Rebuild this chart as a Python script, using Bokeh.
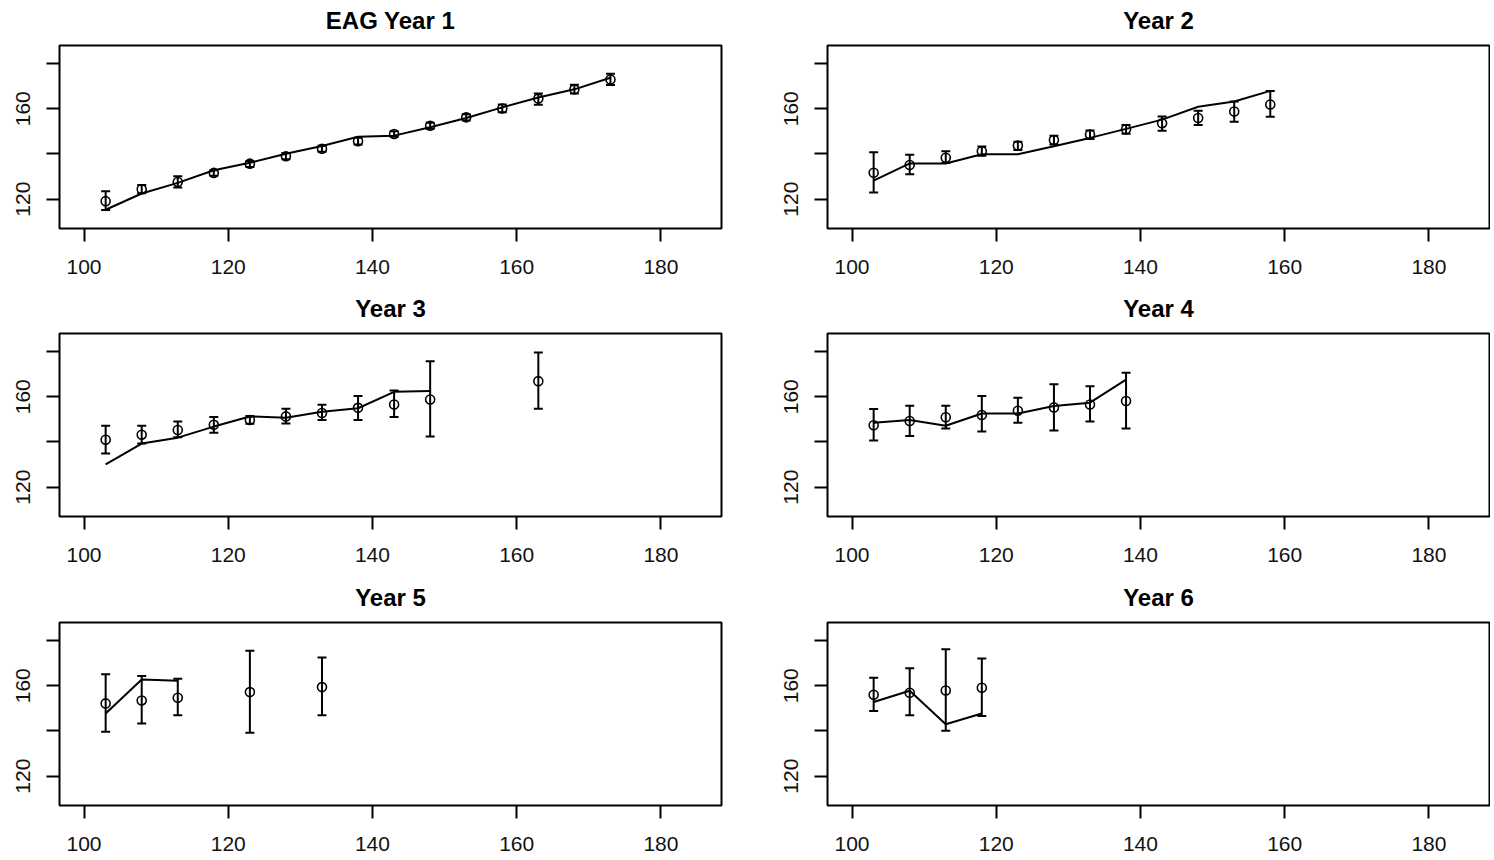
from bokeh.plotting import figure
from bokeh.models import ColumnDataSource, Whisker, TeeHead, Range1d, FixedTicker, Title
from bokeh.layouts import column, row
from bokeh.embed import file_html
from bokeh.resources import INLINE

titles = ["EAG Year 1", "Year 2", "Year 3", "Year 4", "Year 5", "Year 6"]
x_ticks = [100, 120, 140, 160, 180]
y_ticks = [120, 140, 160, 180]
y_tick_labels = {120: "120", 140: "", 160: "160", 180: ""}

# Year 1
ages1 = [103, 108, 113, 118, 123, 128, 133, 138, 143, 148, 153, 158, 163, 168, 173]
obs1 = [119.1, 124.4, 127.6, 131.6, 135.7, 139.0, 142.3, 145.6, 148.8, 152.5, 156.2, 160.1, 164.5, 168.6, 173.0]
lo1 = [115.2, 122.6, 125.1, 130.3, 134.2, 137.6, 141.0, 144.2, 147.6, 151.2, 154.8, 158.4, 161.8, 166.7, 170.5]
hi1 = [123.5, 126.3, 130.1, 132.8, 136.9, 140.4, 143.6, 147.2, 150.0, 153.8, 157.6, 161.9, 166.7, 170.6, 175.5]
fit_x1 = [103, 108, 113, 118, 123, 128, 133, 138, 143, 148, 153, 158, 163, 168, 173]
fit1 = [115.3, 122.5, 127.2, 132.8, 136.1, 140.1, 143.5, 147.6, 148.1, 151.8, 155.9, 160.6, 165.0, 168.6, 173.7]

# Year 2
ages2 = [103, 108, 113, 118, 123, 128, 133, 138, 143, 148, 153, 158]
obs2 = [131.7, 135.1, 138.3, 141.2, 143.7, 146.2, 148.6, 150.9, 153.6, 155.9, 158.8, 161.9]
lo2 = [122.9, 131.0, 136.0, 139.2, 141.8, 144.2, 146.6, 148.9, 150.3, 152.8, 154.3, 156.5]
hi2 = [140.8, 139.6, 141.2, 143.3, 145.4, 148.0, 150.4, 152.8, 156.6, 159.1, 163.2, 167.9]
fit_x2 = [103, 108, 113, 118, 123, 128, 133, 138, 143, 148, 153, 158]
fit2 = [128.2, 135.8, 135.8, 139.9, 139.9, 143.4, 147.1, 151.1, 155.2, 160.9, 163.2, 167.9]

# Year 3
ages3 = [103, 108, 113, 118, 123, 128, 133, 138, 143, 148, 163]
obs3 = [141.0, 143.2, 145.3, 147.6, 149.7, 151.3, 152.8, 155.1, 156.6, 158.8, 166.9]
lo3 = [134.9, 139.3, 142.1, 144.1, 148.0, 148.2, 149.7, 149.7, 151.0, 142.4, 154.7]
hi3 = [147.2, 147.2, 149.0, 151.0, 151.5, 154.7, 156.5, 160.3, 162.8, 175.7, 179.6]
fit_x3 = [103, 108, 113, 118, 123, 128, 133, 138, 143, 148]
fit3 = [130.1, 139.3, 141.9, 146.8, 151.3, 150.7, 153.4, 154.9, 162.2, 162.6]

# Year 4
ages4 = [103, 108, 113, 118, 123, 128, 133, 138]
obs4 = [147.4, 149.3, 150.9, 151.9, 153.8, 155.3, 156.6, 158.1]
lo4 = [140.6, 142.6, 146.0, 144.6, 148.5, 145.1, 149.0, 146.0]
hi4 = [154.6, 156.0, 156.0, 160.3, 159.6, 165.5, 164.6, 170.6]
fit_x4 = [103, 108, 113, 118, 123, 128, 133, 138]
fit4 = [148.5, 149.7, 147.2, 152.6, 152.6, 155.9, 157.4, 167.6]

# Year 5
ages5 = [103, 108, 113, 123, 133]
obs5 = [152.2, 153.5, 154.7, 157.2, 159.4]
lo5 = [139.6, 143.3, 146.9, 139.2, 146.9]
hi5 = [165.1, 164.3, 163.1, 175.5, 172.5]
fit_x5 = [103, 108, 113]
fit5 = [147.7, 162.8, 162.2]

# Year 6
ages6 = [103, 108, 113, 118]
obs6 = [156.0, 156.9, 157.9, 159.1]
lo6 = [148.8, 146.9, 140.1, 146.6]
hi6 = [163.5, 167.8, 176.2, 172.1]
fit_x6 = [103, 108, 113, 118]
fit6 = [152.8, 157.8, 143.0, 147.7]

panels = [
    (ages1, obs1, lo1, hi1, fit_x1, fit1),
    (ages2, obs2, lo2, hi2, fit_x2, fit2),
    (ages3, obs3, lo3, hi3, fit_x3, fit3),
    (ages4, obs4, lo4, hi4, fit_x4, fit4),
    (ages5, obs5, lo5, hi5, fit_x5, fit5),
    (ages6, obs6, lo6, hi6, fit_x6, fit6),
]

FONT = "Liberation Sans"
FRAME_W, FRAME_H = 662, 183
row_heights = [289, 289, 278]
row_tops = [45, 44, 44]
col_widths = [747, 743]
left_borders = [59, 80]


def make_panel(i, data):
    ages, obs, lo, hi, fx, fy = data
    c = i % 2
    r = i // 2
    W = col_widths[c]
    H = row_heights[r]
    lb = left_borders[c]
    top = row_tops[r]
    p = figure(width=W, height=H,
               x_range=Range1d(96.6, 188.4), y_range=Range1d(107.0, 188.0),
               output_backend="svg", toolbar_location=None, title=titles[i],
               min_border_left=lb, min_border_right=W - lb - FRAME_W,
               min_border_top=top, min_border_bottom=H - top - FRAME_H)
    p.title.align = "center"
    p.title.text_font = FONT
    p.title.text_font_size = "24px"
    p.title.text_font_style = "bold"
    p.title.text_color = "black"
    p.title.standoff = 7
    # thin spacer between the title and the frame
    p.add_layout(Title(text=" ", text_font_size="6px", standoff=0), "above")
    p.xgrid.visible = False
    p.ygrid.visible = False
    p.outline_line_color = "black"
    p.outline_line_width = 2
    p.outline_line_alpha = 1
    p.background_fill_color = "white"
    p.border_fill_color = "white"

    for ax in (p.xaxis[0], p.yaxis[0]):
        ax.axis_line_color = None
        ax.major_tick_out = 13
        ax.major_tick_in = 0
        ax.minor_tick_line_color = None
        ax.major_tick_line_width = 2
        ax.major_tick_line_color = "black"
        ax.major_label_text_font = FONT
        ax.major_label_text_font_size = "21px"
        ax.major_label_text_color = "#111111"
    p.xaxis[0].ticker = FixedTicker(ticks=x_ticks)
    p.xaxis[0].major_label_standoff = 18
    p.yaxis[0].ticker = FixedTicker(ticks=y_ticks)
    p.yaxis[0].major_label_overrides = y_tick_labels
    p.yaxis[0].major_label_orientation = "vertical"
    p.yaxis[0].major_label_standoff = 16

    src = ColumnDataSource(dict(x=ages, y=obs, lo=lo, hi=hi))
    w = Whisker(source=src, base="x", upper="hi", lower="lo",
                line_color="black", line_width=2,
                upper_head=TeeHead(size=9, line_width=2, line_color="black"),
                lower_head=TeeHead(size=9, line_width=2, line_color="black"))
    p.add_layout(w)
    p.line(fx, fy, line_color="black", line_width=2)
    p.scatter("x", "y", source=src, marker="circle", size=9,
              fill_color=None, line_color="black", line_width=1.6)
    return p


figs = [make_panel(i, d) for i, d in enumerate(panels)]
layout = column(row(figs[0], figs[1]), row(figs[2], figs[3]), row(figs[4], figs[5]))

open("out.html", "w").write(file_html(layout, INLINE))
